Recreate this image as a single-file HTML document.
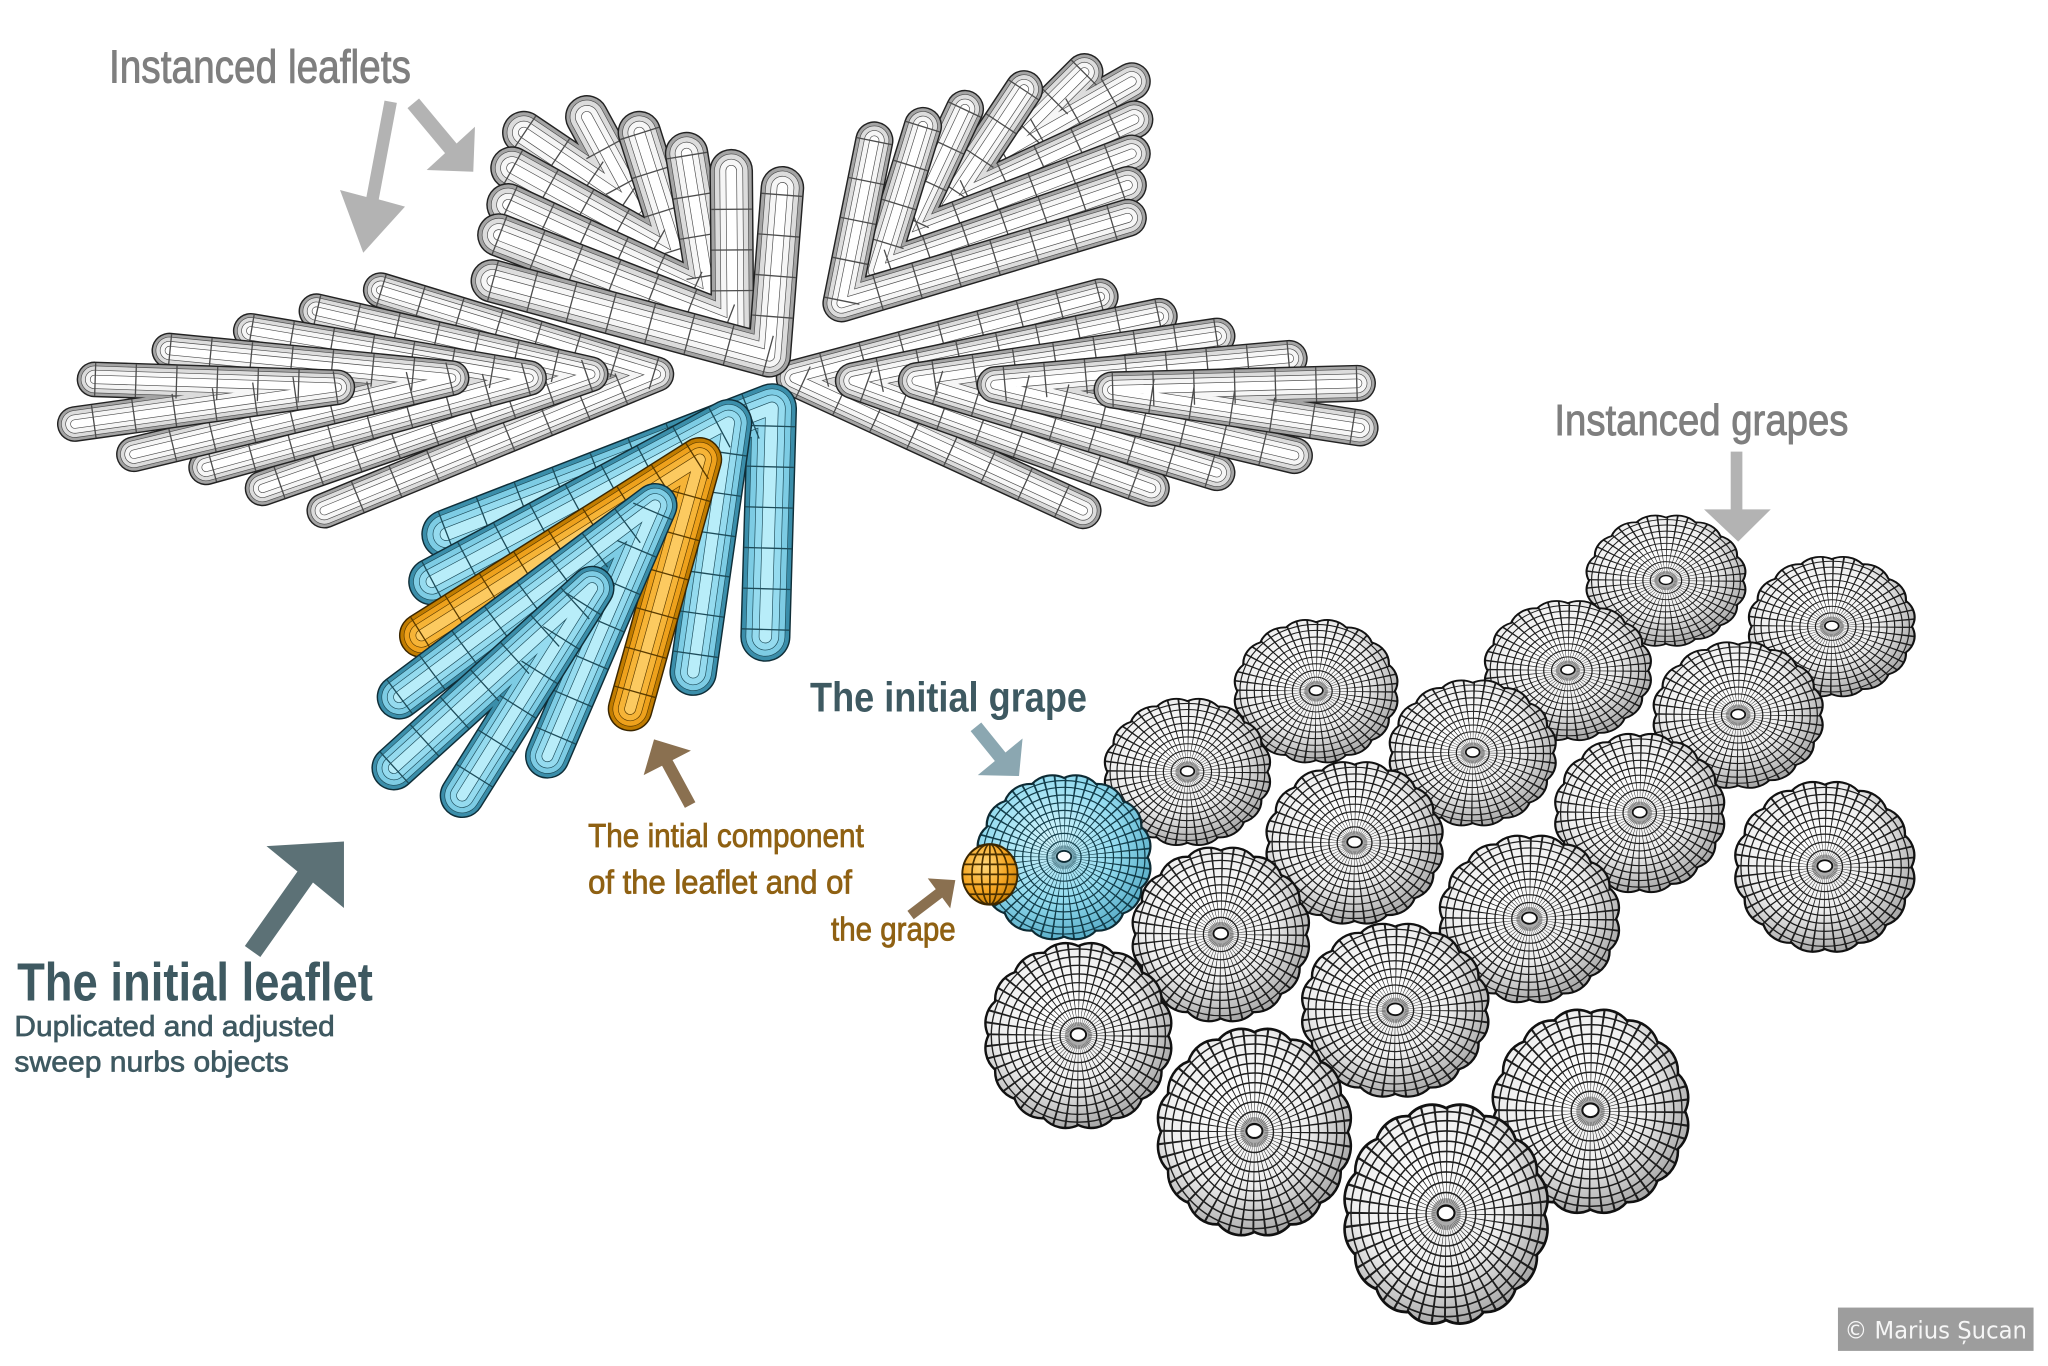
<!DOCTYPE html>
<html><head><meta charset="utf-8">
<style>
html,body{margin:0;padding:0;background:#fff;overflow:hidden;width:2048px;height:1366px}
svg{display:block}
.tube use{fill:none;stroke-linecap:round;stroke-linejoin:round}
.tube .k0{stroke:var(--o,#222);stroke-width:calc(var(--w)*1px + 2.2px)}
.tube .k1{stroke:var(--e,#a4a4a4);stroke-width:calc(var(--w)*1px)}
.tube .k2{stroke:var(--l,#4c4c4c);stroke-width:calc(var(--w)*0.84px)}
.tube .k3{stroke:var(--m,#dcdcdc);stroke-width:calc(var(--w)*0.84px - 1px)}
.tube .k4{stroke:var(--l,#4c4c4c);stroke-width:calc(var(--w)*0.58px)}
.tube .k5{stroke:var(--n,#f6f6f6);stroke-width:calc(var(--w)*0.58px - 1px)}
.tube .k6{stroke:var(--l,#4c4c4c);stroke-width:calc(var(--w)*0.28px)}
.tube .k7{stroke:var(--h,#ffffff);stroke-width:calc(var(--w)*0.28px - 1px)}
.tube .k8{stroke:var(--l,#4c4c4c);stroke-width:calc(var(--w)*1px);stroke-dasharray:1 30;stroke-linecap:butt}
.blue{--o:#0f2e38;--e:#3b8eaa;--l:#1d4c5a;--m:#7dcce4;--n:#95dbef;--h:#b8edf9}
.orng{--o:#3a2600;--e:#c17c00;--l:#5a3b00;--m:#eea11c;--n:#f6b437;--h:#fcca60}
.lbl{font-family:"Liberation Sans Narrow","Liberation Sans",sans-serif}
</style></head>
<body>
<svg xmlns="http://www.w3.org/2000/svg" width="2048" height="1366" viewBox="0 0 1560 1040.5">
<defs>
<path id="L1" d="M290,221 L500,285 L247,389"/>
<path id="L2" d="M241,237 L450,285 L200,372"/>
<path id="L3" d="M191,252 L403,288 L157,356"/>
<path id="L4" d="M129,267 L344,288 L102,346"/>
<path id="L5" d="M72,289 L257,295 L57,323"/>
<path id="Q1" d="M838,226 L605,288 L825,389"/>
<path id="Q2" d="M883,241 L650,290 L877,372"/>
<path id="Q3" d="M927,256 L698,290 L927,360"/>
<path id="Q4" d="M982,273 L758,293 L986,347"/>
<path id="Q5" d="M1034,292 L847,297 L1036,326"/>
<path id="T1" d="M375,214 L586,271 L596,143"/>
<path id="T2" d="M380,179 L558,248 L557,130"/>
<path id="T3" d="M387,156 L541,227 L523,117"/>
<path id="T4" d="M390,128 L518,199 L487,101"/>
<path id="T5" d="M399,101 L485,159 L447,89"/>
<path id="R1" d="M666,107 L641,231 L859,166"/>
<path id="R2" d="M703,96 L669,206 L859,141"/>
<path id="R3" d="M735,83 L688,183 L862,117"/>
<path id="R4" d="M780,68 L721,157 L864,91"/>
<path id="R5" d="M826,55 L762,119 L862,62"/>
<path id="B1" d="M340,407 L588,311 L583,485"/>
<path id="B2" d="M329,443 L555,322 L528,512"/>
<path id="O3" d="M321,484 L533,350 L480,540"/>
<path id="B4" d="M304,531 L499,385 L417,576"/>
<path id="B5" d="M300,585 L451,448 L352,606"/>

<radialGradient id="rgW" cx="0.42" cy="0.38" r="0.7">
<stop offset="0" stop-color="#ffffff"/><stop offset="0.55" stop-color="#eeeeee"/><stop offset="1" stop-color="#949494"/>
</radialGradient>
<radialGradient id="rgB" cx="0.42" cy="0.38" r="0.7">
<stop offset="0" stop-color="#d2f5fd"/><stop offset="0.55" stop-color="#93dbef"/><stop offset="1" stop-color="#4aa2be"/>
</radialGradient>
<radialGradient id="rgO" cx="0.4" cy="0.35" r="0.75">
<stop offset="0" stop-color="#ffd97e"/><stop offset="0.55" stop-color="#f5a623"/><stop offset="1" stop-color="#c07700"/>
</radialGradient>
<path id="sc" d="M0.93,0 A0.3,0.3 0 0 1 0.8592,0.3559 A0.3,0.3 0 0 1 0.6576,0.6576 A0.3,0.3 0 0 1 0.3559,0.8592 A0.3,0.3 0 0 1 0,0.93 A0.3,0.3 0 0 1 -0.3559,0.8592 A0.3,0.3 0 0 1 -0.6576,0.6576 A0.3,0.3 0 0 1 -0.8592,0.3559 A0.3,0.3 0 0 1 -0.93,0 A0.3,0.3 0 0 1 -0.8592,-0.3559 A0.3,0.3 0 0 1 -0.6576,-0.6576 A0.3,0.3 0 0 1 -0.3559,-0.8592 A0.3,0.3 0 0 1 0,-0.93 A0.3,0.3 0 0 1 0.3559,-0.8592 A0.3,0.3 0 0 1 0.6576,-0.6576 A0.3,0.3 0 0 1 0.8592,-0.3559 A0.3,0.3 0 0 1 0.93,0Z"/>
<clipPath id="scc"><use href="#sc"/></clipPath>
<clipPath id="cc"><circle r="1"/></clipPath>
<g id="mesh" fill="none" stroke="currentColor" clip-path="url(#scc)">
<circle r="0.55" stroke-width="0.9" stroke-dasharray="0.012 0.06"/>
<circle r="0.14" fill="currentColor" fill-opacity="0.35" stroke="none"/>
<circle r="0.19" stroke-width="0.014"/>
<circle r="0.28" stroke-width="0.014"/>
<circle r="0.37" stroke-width="0.014"/>
<circle r="0.46" stroke-width="0.014"/>
<circle r="0.55" stroke-width="0.014"/>
<circle r="0.64" stroke-width="0.014"/>
<circle r="0.73" stroke-width="0.014"/>
<circle r="0.82" stroke-width="0.014"/>
<circle r="0.9" stroke-width="0.014"/>
</g>
<g id="gW">
<use href="#sc" fill="url(#rgW)"/>
<use href="#mesh" color="#1e1e1e"/>
<use href="#sc" fill="none" stroke="#111" stroke-width="0.025"/>
<ellipse cy="-0.01" rx="0.08" ry="0.065" fill="#fff" stroke="#111" stroke-width="0.02"/>
</g>
<g id="gB">
<use href="#sc" fill="url(#rgB)"/>
<use href="#mesh" color="#123d4a"/>
<use href="#sc" fill="none" stroke="#0d2a33" stroke-width="0.025"/>
<ellipse cy="-0.01" rx="0.08" ry="0.065" fill="#fff" stroke="#0d2a33" stroke-width="0.02"/>
</g>
<g id="gO">
<circle r="1" fill="url(#rgO)"/>
<g fill="none" stroke="#4a3000" stroke-width="0.06" clip-path="url(#cc)">
<ellipse rx="0.3" ry="1"/><ellipse rx="0.65" ry="1"/><line x1="0" y1="-1" x2="0" y2="1"/>
<line x1="-1" y1="-0.66" x2="1" y2="-0.66"/><line x1="-1" y1="-0.33" x2="1" y2="-0.33"/><line x1="-1" y1="0" x2="1" y2="0"/><line x1="-1" y1="0.33" x2="1" y2="0.33"/><line x1="-1" y1="0.66" x2="1" y2="0.66"/>
</g>
<circle r="1" fill="none" stroke="#3a2600" stroke-width="0.07"/>
</g>
</defs>

<rect width="1560" height="1040.5" fill="#fff"/>

<!-- Left leaflet -->
<g class="tube">
<g style="--w:25"><use href="#L1" class="k0"/><use href="#L1" class="k1"/><use href="#L1" class="k2"/><use href="#L1" class="k3"/><use href="#L1" class="k4"/><use href="#L1" class="k5"/><use href="#L1" class="k6"/><use href="#L1" class="k7"/><use href="#L1" class="k8"/></g>
<g style="--w:25"><use href="#L2" class="k0"/><use href="#L2" class="k1"/><use href="#L2" class="k2"/><use href="#L2" class="k3"/><use href="#L2" class="k4"/><use href="#L2" class="k5"/><use href="#L2" class="k6"/><use href="#L2" class="k7"/><use href="#L2" class="k8"/></g>
<g style="--w:25"><use href="#L3" class="k0"/><use href="#L3" class="k1"/><use href="#L3" class="k2"/><use href="#L3" class="k3"/><use href="#L3" class="k4"/><use href="#L3" class="k5"/><use href="#L3" class="k6"/><use href="#L3" class="k7"/><use href="#L3" class="k8"/></g>
<g style="--w:25"><use href="#L4" class="k0"/><use href="#L4" class="k1"/><use href="#L4" class="k2"/><use href="#L4" class="k3"/><use href="#L4" class="k4"/><use href="#L4" class="k5"/><use href="#L4" class="k6"/><use href="#L4" class="k7"/><use href="#L4" class="k8"/></g>
<g style="--w:25"><use href="#L5" class="k0"/><use href="#L5" class="k1"/><use href="#L5" class="k2"/><use href="#L5" class="k3"/><use href="#L5" class="k4"/><use href="#L5" class="k5"/><use href="#L5" class="k6"/><use href="#L5" class="k7"/><use href="#L5" class="k8"/></g>
</g>

<!-- Right leaflet -->
<g class="tube">
<g style="--w:26"><use href="#Q1" class="k0"/><use href="#Q1" class="k1"/><use href="#Q1" class="k2"/><use href="#Q1" class="k3"/><use href="#Q1" class="k4"/><use href="#Q1" class="k5"/><use href="#Q1" class="k6"/><use href="#Q1" class="k7"/><use href="#Q1" class="k8"/></g>
<g style="--w:26"><use href="#Q2" class="k0"/><use href="#Q2" class="k1"/><use href="#Q2" class="k2"/><use href="#Q2" class="k3"/><use href="#Q2" class="k4"/><use href="#Q2" class="k5"/><use href="#Q2" class="k6"/><use href="#Q2" class="k7"/><use href="#Q2" class="k8"/></g>
<g style="--w:26"><use href="#Q3" class="k0"/><use href="#Q3" class="k1"/><use href="#Q3" class="k2"/><use href="#Q3" class="k3"/><use href="#Q3" class="k4"/><use href="#Q3" class="k5"/><use href="#Q3" class="k6"/><use href="#Q3" class="k7"/><use href="#Q3" class="k8"/></g>
<g style="--w:26"><use href="#Q4" class="k0"/><use href="#Q4" class="k1"/><use href="#Q4" class="k2"/><use href="#Q4" class="k3"/><use href="#Q4" class="k4"/><use href="#Q4" class="k5"/><use href="#Q4" class="k6"/><use href="#Q4" class="k7"/><use href="#Q4" class="k8"/></g>
<g style="--w:26"><use href="#Q5" class="k0"/><use href="#Q5" class="k1"/><use href="#Q5" class="k2"/><use href="#Q5" class="k3"/><use href="#Q5" class="k4"/><use href="#Q5" class="k5"/><use href="#Q5" class="k6"/><use href="#Q5" class="k7"/><use href="#Q5" class="k8"/></g>
</g>

<!-- Top-middle leaflet -->
<g class="tube">
<g style="--w:31"><use href="#T5" class="k0"/><use href="#T5" class="k1"/><use href="#T5" class="k2"/><use href="#T5" class="k3"/><use href="#T5" class="k4"/><use href="#T5" class="k5"/><use href="#T5" class="k6"/><use href="#T5" class="k7"/><use href="#T5" class="k8"/></g>
<g style="--w:31"><use href="#T4" class="k0"/><use href="#T4" class="k1"/><use href="#T4" class="k2"/><use href="#T4" class="k3"/><use href="#T4" class="k4"/><use href="#T4" class="k5"/><use href="#T4" class="k6"/><use href="#T4" class="k7"/><use href="#T4" class="k8"/></g>
<g style="--w:31"><use href="#T3" class="k0"/><use href="#T3" class="k1"/><use href="#T3" class="k2"/><use href="#T3" class="k3"/><use href="#T3" class="k4"/><use href="#T3" class="k5"/><use href="#T3" class="k6"/><use href="#T3" class="k7"/><use href="#T3" class="k8"/></g>
<g style="--w:31"><use href="#T2" class="k0"/><use href="#T2" class="k1"/><use href="#T2" class="k2"/><use href="#T2" class="k3"/><use href="#T2" class="k4"/><use href="#T2" class="k5"/><use href="#T2" class="k6"/><use href="#T2" class="k7"/><use href="#T2" class="k8"/></g>
<g style="--w:31"><use href="#T1" class="k0"/><use href="#T1" class="k1"/><use href="#T1" class="k2"/><use href="#T1" class="k3"/><use href="#T1" class="k4"/><use href="#T1" class="k5"/><use href="#T1" class="k6"/><use href="#T1" class="k7"/><use href="#T1" class="k8"/></g>
</g>

<!-- Top-right leaflet -->
<g class="tube">
<g style="--w:27"><use href="#R5" class="k0"/><use href="#R5" class="k1"/><use href="#R5" class="k2"/><use href="#R5" class="k3"/><use href="#R5" class="k4"/><use href="#R5" class="k5"/><use href="#R5" class="k6"/><use href="#R5" class="k7"/><use href="#R5" class="k8"/></g>
<g style="--w:27"><use href="#R4" class="k0"/><use href="#R4" class="k1"/><use href="#R4" class="k2"/><use href="#R4" class="k3"/><use href="#R4" class="k4"/><use href="#R4" class="k5"/><use href="#R4" class="k6"/><use href="#R4" class="k7"/><use href="#R4" class="k8"/></g>
<g style="--w:27"><use href="#R3" class="k0"/><use href="#R3" class="k1"/><use href="#R3" class="k2"/><use href="#R3" class="k3"/><use href="#R3" class="k4"/><use href="#R3" class="k5"/><use href="#R3" class="k6"/><use href="#R3" class="k7"/><use href="#R3" class="k8"/></g>
<g style="--w:27"><use href="#R2" class="k0"/><use href="#R2" class="k1"/><use href="#R2" class="k2"/><use href="#R2" class="k3"/><use href="#R2" class="k4"/><use href="#R2" class="k5"/><use href="#R2" class="k6"/><use href="#R2" class="k7"/><use href="#R2" class="k8"/></g>
<g style="--w:27"><use href="#R1" class="k0"/><use href="#R1" class="k1"/><use href="#R1" class="k2"/><use href="#R1" class="k3"/><use href="#R1" class="k4"/><use href="#R1" class="k5"/><use href="#R1" class="k6"/><use href="#R1" class="k7"/><use href="#R1" class="k8"/></g>
</g>

<!-- Initial (blue) leaflet -->
<g class="tube">
<g class="blue" style="--w:36"><use href="#B1" class="k0"/><use href="#B1" class="k1"/><use href="#B1" class="k2"/><use href="#B1" class="k3"/><use href="#B1" class="k4"/><use href="#B1" class="k5"/><use href="#B1" class="k6"/><use href="#B1" class="k7"/><use href="#B1" class="k8"/></g>
<g class="blue" style="--w:34"><use href="#B2" class="k0"/><use href="#B2" class="k1"/><use href="#B2" class="k2"/><use href="#B2" class="k3"/><use href="#B2" class="k4"/><use href="#B2" class="k5"/><use href="#B2" class="k6"/><use href="#B2" class="k7"/><use href="#B2" class="k8"/></g>
<g class="orng" style="--w:32"><use href="#O3" class="k0"/><use href="#O3" class="k1"/><use href="#O3" class="k2"/><use href="#O3" class="k3"/><use href="#O3" class="k4"/><use href="#O3" class="k5"/><use href="#O3" class="k6"/><use href="#O3" class="k7"/><use href="#O3" class="k8"/></g>
<g class="blue" style="--w:32"><use href="#B4" class="k0"/><use href="#B4" class="k1"/><use href="#B4" class="k2"/><use href="#B4" class="k3"/><use href="#B4" class="k4"/><use href="#B4" class="k5"/><use href="#B4" class="k6"/><use href="#B4" class="k7"/><use href="#B4" class="k8"/></g>
<g class="blue" style="--w:32"><use href="#B5" class="k0"/><use href="#B5" class="k1"/><use href="#B5" class="k2"/><use href="#B5" class="k3"/><use href="#B5" class="k4"/><use href="#B5" class="k5"/><use href="#B5" class="k6"/><use href="#B5" class="k7"/><use href="#B5" class="k8"/></g>
</g>

<!-- Grapes -->
<use href="#gW" transform="translate(1269 442.3) scale(63 51.7)"/>
<use href="#gW" transform="translate(1395.3 477.3) scale(65.7 55.3)"/>
<use href="#gW" transform="translate(1194.3 510.8) scale(65.8 55.2)"/>
<use href="#gW" transform="translate(1002.5 526.5) scale(64.5 56.5)"/>
<use href="#gW" transform="translate(1324 544.7) scale(67 57.7)"/>
<use href="#gW" transform="translate(1121.8 573.5) scale(65.8 57.5)"/>
<use href="#gW" transform="translate(904.5 588) scale(65.5 58)"/>
<use href="#gW" transform="translate(1249 619.3) scale(67 62.7)"/>
<use href="#gW" transform="translate(1031.8 642) scale(69.8 64)"/>
<use href="#gB" transform="translate(810.5 653) scale(68.5 65)"/>
<use href="#gO" transform="translate(754 666) scale(21 23)"/>
<use href="#gW" transform="translate(1390 660.3) scale(71 67.3)"/>
<use href="#gW" transform="translate(1165 700) scale(71 66)"/>
<use href="#gW" transform="translate(929.9 711.8) scale(69.9 68.8)"/>
<use href="#gW" transform="translate(1062.8 769.5) scale(73.8 68.5)"/>
<use href="#gW" transform="translate(821.4 788.8) scale(73.7 73.3)"/>
<use href="#gW" transform="translate(1211.5 846.5) scale(77.5 80.5)"/>
<use href="#gW" transform="translate(955.5 862.3) scale(76.5 81.8)"/>
<use href="#gW" transform="translate(1101.5 924.8) scale(80.5 86.8)"/>

<!-- Arrows -->
<polygon fill="#b3b3b3" points="292.9,76.6 302.3,78.4 288.5,151.9 308.5,157.4 276.7,192.5 259,144.7 279.1,150.1"/>
<polygon fill="#b3b3b3" points="310.4,82.35 319.2,75.05 347.8,109.35 361.8,96.5 360.5,130.8 325,129.5 339,116.65"/>
<polygon fill="#b3b3b3" points="1318.3,344 1327.2,344 1327.2,388 1348.8,388 1324,412.6 1298,388 1318.3,388"/>
<polygon fill="#5c7176" points="186.5,720.6 226.6,663.8 203,644.5 262,641 262,691.6 238.4,672.2 198.3,729"/>
<polygon fill="#8a7050" points="521.7,615.35 504.3,583.25 490.3,590.4 498.2,563.2 526.3,571.8 512.3,578.95 529.7,611.05"/>
<polygon fill="#8a7050" points="691.2,693.8 712.8,677.3 706.7,669.1 727.7,670.4 723.8,691.9 717.7,683.7 696,700.2"/>
<polygon fill="#8ba7b1" points="739.35,556.9 747.45,550.3 765.9,573.2 778.9,562.5 776.2,591.1 744.8,590.4 757.8,579.7"/>

<!-- Labels -->
<g class="lbl">
<text x="83" y="62.7" font-size="35.5" textLength="230" lengthAdjust="spacingAndGlyphs" fill="#7f7f7f" stroke="#7f7f7f" stroke-width="0.7">Instanced leaflets</text>
<text x="1184" y="331.4" font-size="33.5" textLength="224" lengthAdjust="spacingAndGlyphs" fill="#7f7f7f" stroke="#7f7f7f" stroke-width="0.7">Instanced grapes</text>
<text x="617" y="542" font-size="32" font-weight="bold" textLength="211" lengthAdjust="spacingAndGlyphs" fill="#3e5961">The initial grape</text>
<text x="448" y="645" font-size="25.5" textLength="210" lengthAdjust="spacingAndGlyphs" fill="#8f6113" stroke="#8f6113" stroke-width="0.6">The intial component</text>
<text x="448" y="680.5" font-size="25.5" textLength="201" lengthAdjust="spacingAndGlyphs" fill="#8f6113" stroke="#8f6113" stroke-width="0.6">of the leaflet and of</text>
<text x="633" y="716.5" font-size="25.5" textLength="95" lengthAdjust="spacingAndGlyphs" fill="#8f6113" stroke="#8f6113" stroke-width="0.6">the grape</text>
<text x="13" y="762" font-size="41" font-weight="bold" textLength="271" lengthAdjust="spacingAndGlyphs" fill="#3e5961">The initial leaflet</text>
<text x="11" y="789" font-size="21.5" textLength="244" lengthAdjust="spacingAndGlyphs" fill="#3e5961" stroke="#3e5961" stroke-width="0.5">Duplicated and adjusted</text>
<text x="11" y="816" font-size="21.5" textLength="209" lengthAdjust="spacingAndGlyphs" fill="#3e5961" stroke="#3e5961" stroke-width="0.5">sweep nurbs objects</text>
</g>

<rect x="1400" y="996" width="149" height="33" fill="#9d9d9d"/>
<text x="1405" y="1019.5" font-family="'DejaVu Sans','Liberation Sans',sans-serif" font-size="18" textLength="139" lengthAdjust="spacingAndGlyphs" fill="#f6f6f6">© Marius Șucan</text>
</svg>
</body></html>
